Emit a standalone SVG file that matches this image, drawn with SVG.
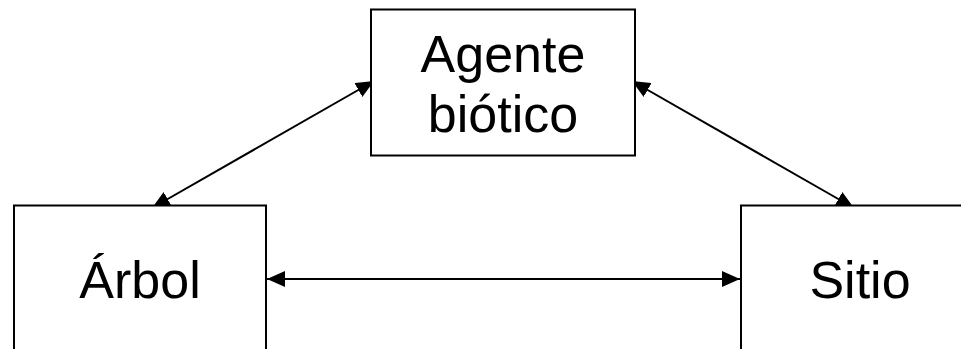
<svg xmlns="http://www.w3.org/2000/svg" width="961" height="349" viewBox="0 0 961 349">
<style>
.box{fill:#fff;stroke:#000;stroke-width:2}
.lbl{font-family:"Liberation Sans",Arial,sans-serif;font-size:52px;fill:#000;text-anchor:middle}
.con{stroke:#000;stroke-width:2;fill:none;marker-start:url(#ah);marker-end:url(#ah)}
</style>
<defs>
<marker id="ah" markerUnits="userSpaceOnUse" markerWidth="19" markerHeight="16" refX="18" refY="8" orient="auto-start-reverse" viewBox="0 0 19 16">
<path d="M0,0 L18,8 L0,16 Z" fill="#000"/>
</marker>
</defs>
<rect width="961" height="349" fill="#fff"/>
<g id="connectors">
<line class="con" x1="374" y1="81" x2="152" y2="208"/>
<line class="con" x1="632" y1="81" x2="854" y2="208"/>
<line class="con" x1="267" y1="279" x2="740" y2="279"/>
</g>
<g id="agente">
<rect class="box" x="371" y="9.5" width="264" height="146"/>
<text class="lbl" x="503" y="72">Agente</text>
<text class="lbl" x="503" y="132">biótico</text>
</g>
<g id="arbol">
<rect class="box" x="14" y="205.5" width="252" height="160"/>
<text class="lbl" x="140" y="298">Árbol</text>
</g>
<g id="sitio">
<rect class="box" x="741" y="205.5" width="238" height="160"/>
<text class="lbl" x="860" y="298">Sitio</text>
</g>
</svg>
